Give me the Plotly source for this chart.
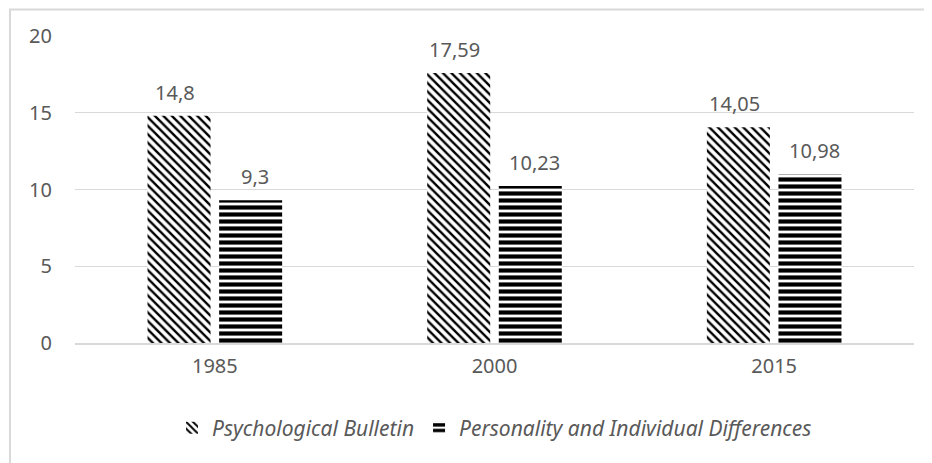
import plotly.graph_objects as go

years = ["1985", "2000", "2015"]
psych_bulletin = [14.8, 17.59, 14.05]
personality = [9.3, 10.23, 10.98]
series_names = ["Psychological Bulletin", "Personality and Individual Differences"]

def fmt(v):
    return str(v).replace(".", ",")

FONT = "Noto Sans"
TXT = "#595959"
BAR_OFFSET = 0.143  # half distance between the two bars of a group, in category units

fig = go.Figure()
fig.add_trace(go.Bar(
    x=years, y=psych_bulletin, name=series_names[0],
    marker=dict(color="white", line=dict(width=0),
                pattern=dict(shape="\\", size=6, solidity=0.4, fgcolor="black",
                             bgcolor="white", fgopacity=1)),
))
fig.add_trace(go.Bar(
    x=years, y=personality, name=series_names[1],
    marker=dict(color="white", line=dict(width=0),
                pattern=dict(shape="-", size=7, solidity=0.6, fgcolor="black",
                             bgcolor="white", fgopacity=1)),
))

annotations = []
for i, v in enumerate(psych_bulletin):
    annotations.append(dict(x=i - BAR_OFFSET, y=v, text=fmt(v), showarrow=False,
                            yanchor="bottom", yshift=8,
                            font=dict(size=20, color=TXT, family=FONT)))
for i, v in enumerate(personality):
    annotations.append(dict(x=i + BAR_OFFSET, y=v, text=fmt(v), showarrow=False,
                            yanchor="bottom", yshift=8,
                            font=dict(size=20, color=TXT, family=FONT)))

# The page keeps its default 8px body margin, so margins are offset by 8px.
fig.update_layout(
    width=932, height=463,
    margin=dict(l=67, r=26, t=28, b=128),
    paper_bgcolor="white", plot_bgcolor="white",
    barmode="group", bargap=0.488, bargroupgap=0.12,
    font=dict(family=FONT, size=20, color=TXT),
    showlegend=True,
    legend=dict(orientation="h", x=0.5, xanchor="center", y=-0.277, yanchor="middle",
                font=dict(family=FONT, size=21, color=TXT, style="italic"),
                itemwidth=30, traceorder="normal"),
    annotations=annotations,
    shapes=[dict(type="rect", xref="paper", yref="paper",
                 x0=-0.0775, x1=1.06, y0=-0.45, y1=1.086,
                 line=dict(color="#d9d9d9", width=2), fillcolor="rgba(0,0,0,0)",
                 layer="below")],
)
fig.update_yaxes(range=[0, 20], dtick=5, showgrid=True, gridcolor="#d9d9d9", gridwidth=1,
                 zeroline=False, showline=False, ticks="", ticklabelstandoff=22,
                 tickfont=dict(size=20, color=TXT, family=FONT))
fig.update_xaxes(showline=True, linecolor="#d9d9d9", linewidth=1.5, ticks="",
                 tickfont=dict(size=20, color=TXT, family=FONT), ticklabelstandoff=4)

fig.write_html("out.html", config={"displayModeBar": False})
